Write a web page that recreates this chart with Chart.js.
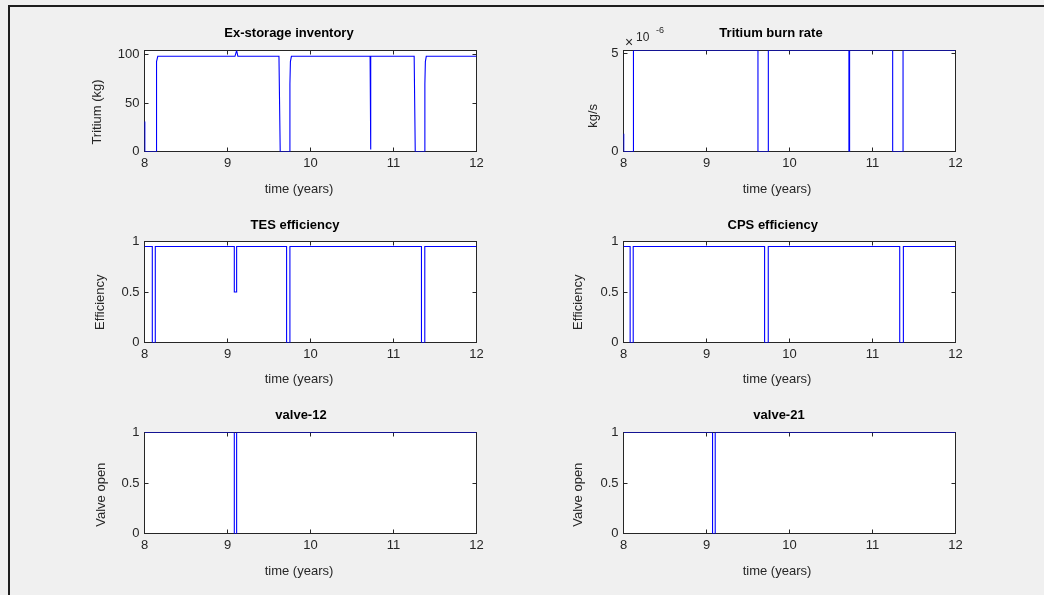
<!DOCTYPE html>
<html><head><meta charset="utf-8">
<script src="https://cdn.jsdelivr.net/npm/chart.js@4.4.1/dist/chart.umd.min.js"></script>
<style>
html,body{margin:0;padding:0;background:#f0f0f0;width:1044px;height:595px;overflow:hidden;position:relative;}
#frame{position:absolute;left:8px;top:5px;width:1040px;height:600px;border-left:2px solid #1e1e1e;border-top:2px solid #1e1e1e;box-sizing:border-box;}
canvas{position:absolute;}
</style></head><body>
<div id="frame"></div>
<script>
// ---------- data ----------
const xTicks = [8, 9, 10, 11, 12];
const xTickLabels = ['8', '9', '10', '11', '12'];

const invTime = [8.000, 8.004, 8.140, 8.143, 8.147, 8.160, 9.090, 9.110, 9.125, 9.620, 9.635, 9.744, 9.752, 9.758, 9.770, 10.718, 10.723, 10.728, 11.249, 11.262, 11.370, 11.378, 11.384, 11.395, 12.000];
const invKg   = [31, 0, 0, 70, 93, 98.5, 98.5, 104.5, 98.5, 98.5, 0, 0, 70, 93, 98.5, 98.5, 2, 98.5, 98.5, 0, 0, 70, 93, 98.5, 98.5];
const invTicks = [0, 50, 100];
const invTickLabels = ['0', '50', '100'];

const burnTime = [8.000, 8.003, 8.120, 8.120, 9.620, 9.620, 9.745, 9.745, 10.716, 10.716, 10.724, 10.724, 11.243, 11.243, 11.368, 11.368, 12.000];
const burnRate = [0.9, 0, 0, 5.15, 5.15, 0, 0, 5.15, 5.15, 0, 0, 5.15, 5.15, 0, 0, 5.15, 5.15]; // x 1e-6 kg/s
const burnTicks = [0, 5];
const burnTickLabels = ['0', '5'];

const tesTime = [8.000, 8.094, 8.094, 8.130, 8.130, 9.082, 9.082, 9.110, 9.110, 9.712, 9.712, 9.752, 9.752, 11.337, 11.337, 11.377, 11.377, 12.000];
const tesEff  = [0.95, 0.95, 0, 0, 0.95, 0.95, 0.5, 0.5, 0.95, 0.95, 0, 0, 0.95, 0.95, 0, 0, 0.95, 0.95];

const cpsTime = [8.000, 8.080, 8.080, 8.117, 8.117, 9.700, 9.700, 9.744, 9.744, 11.328, 11.328, 11.372, 11.372, 12.000];
const cpsEff  = [0.95, 0.95, 0, 0, 0.95, 0.95, 0, 0, 0.95, 0.95, 0, 0, 0.95, 0.95];

const v12Time = [8.000, 9.082, 9.082, 9.110, 9.110, 12.000];
const v12Open = [1, 1, 0, 0, 1, 1];
const v21Time = [8.000, 9.073, 9.073, 9.105, 9.105, 12.000];
const v21Open = [1, 1, 0, 0, 1, 1];

const unitTicks = [0, 0.5, 1];
const unitTickLabels = ['0', '0.5', '1'];

// ---------- layout ----------
const ML = 80, MT = 36, MR = 20, MB = 56;
const FONT = "'Liberation Sans', Arial, Helvetica, sans-serif";
const panels = [
  {id:'p1', L:144, T:50, W:333, H:102, xs:invTime, ys:invKg, ymax:104.5, yt:invTicks, yl:invTickLabels,
   title:'Ex-storage inventory', tx:289, ty:37.3, xlab:'time (years)', xx:299, xy:192.7, ylab:'Tritium (kg)', yx:97.8, yy:112},
  {id:'p2', L:623, T:50, W:333, H:102, xs:burnTime, ys:burnRate, ymax:5.15, yt:burnTicks, yl:burnTickLabels,
   title:'Tritium burn rate', tx:771, ty:37.3, xlab:'time (years)', xx:777, xy:192.7, ylab:'kg/s', yx:593.7, yy:115.8, expo:true},
  {id:'p3', L:144, T:241, W:333, H:102, xs:tesTime, ys:tesEff, ymax:1, yt:unitTicks, yl:unitTickLabels,
   title:'TES efficiency', tx:295, ty:229.3, xlab:'time (years)', xx:299, xy:382.7, ylab:'Efficiency', yx:100.5, yy:302.2},
  {id:'p4', L:623, T:241, W:333, H:102, xs:cpsTime, ys:cpsEff, ymax:1, yt:unitTicks, yl:unitTickLabels,
   title:'CPS efficiency', tx:772.7, ty:229.3, xlab:'time (years)', xx:777, xy:382.7, ylab:'Efficiency', yx:578.7, yy:302.2},
  {id:'p5', L:144, T:432, W:333, H:102, xs:v12Time, ys:v12Open, ymax:1, yt:unitTicks, yl:unitTickLabels,
   title:'valve-12', tx:301, ty:419.3, xlab:'time (years)', xx:299, xy:575, ylab:'Valve open', yx:101, yy:494.7},
  {id:'p6', L:623, T:432, W:333, H:102, xs:v21Time, ys:v21Open, ymax:1, yt:unitTicks, yl:unitTickLabels,
   title:'valve-21', tx:779, ty:419.3, xlab:'time (years)', xx:777, xy:575, ylab:'Valve open', yx:578.7, yy:494.7}
];

const AX = '#262626';
const matlabPlugin = {
  id: 'matlab',
  beforeDraw(chart) {
    const a = chart.chartArea, c = chart.ctx;
    c.save(); c.fillStyle = '#ffffff';
    c.fillRect(a.left, a.top, a.right - a.left, a.bottom - a.top);
    c.restore();
  },
  beforeDatasetsDraw(chart) {
    const a = chart.chartArea, c = chart.ctx;
    const xs = chart.scales.x, ys = chart.scales.y;
    const l = a.left, r = a.right, t = a.top, b = a.bottom;
    c.save();
    c.strokeStyle = AX; c.lineWidth = 1;
    c.strokeRect(l, t, r - l, b - t);
    const tl = 4;
    c.beginPath();
    xs.ticks.forEach(tk => {
      const px = Math.floor(xs.getPixelForValue(tk.value)) + 0.5;
      if (px <= l + 1 || px >= r - 1) return;
      c.moveTo(px, b); c.lineTo(px, b - tl);
      c.moveTo(px, t); c.lineTo(px, t + tl);
    });
    ys.ticks.forEach(tk => {
      const py = Math.floor(ys.getPixelForValue(tk.value)) + 0.5;
      if (py <= t + 1 || py >= b - 1) return;
      c.moveTo(l, py); c.lineTo(l + tl, py);
      c.moveTo(r, py); c.lineTo(r - tl, py);
    });
    c.stroke();
    c.restore();
  },
  afterDraw(chart) {
    const p = chart.options.plugins.matlab;
    const c = chart.ctx, ox = p.ox, oy = p.oy;
    c.save();
    c.textBaseline = 'alphabetic';
    c.textAlign = 'center';
    c.fillStyle = '#000000';
    c.font = 'bold 13px ' + FONT;
    c.fillText(p.title, p.tx - ox, p.ty - oy);
    c.fillStyle = AX;
    c.font = '13px ' + FONT;
    c.fillText(p.xlab, p.xx - ox, p.xy - oy);
    c.save();
    c.translate(p.yx - ox, p.yy - oy);
    c.rotate(-Math.PI / 2);
    c.textBaseline = 'middle';
    c.fillText(p.ylab, 0, 0);
    c.restore();
    if (p.expo) {
      c.textAlign = 'left';
      c.font = '14px ' + FONT;
      c.fillText('\u00d7', 625 - ox, 47 - oy);
      c.font = '12px ' + FONT;
      c.fillText('10', 636 - ox, 41 - oy);
      c.font = '9px ' + FONT;
      c.fillText('-6', 656 - ox, 33 - oy);
    }
    c.restore();
  }
};

panels.forEach(p => {
  const cv = document.createElement('canvas');
  cv.id = p.id;
  const cw = ML + p.W + MR, ch = MT + p.H + MB;
  cv.width = cw; cv.height = ch;
  cv.style.left = (p.L - ML) + 'px';
  cv.style.top = (p.T - MT) + 'px';
  cv.style.width = cw + 'px'; cv.style.height = ch + 'px';
  document.body.appendChild(cv);
  const pts = p.xs.map((x, i) => ({x: x, y: p.ys[i]}));
  new Chart(cv, {
    type: 'line',
    data: {datasets: [{data: pts, borderColor: '#0000ff', borderWidth: 1.1, pointRadius: 0, tension: 0, fill: false}]},
    options: {
      responsive: false, animation: false, devicePixelRatio: 1,
      layout: {padding: {left: 0, top: MT + 0.5, right: MR + 0.5, bottom: 0}},
      plugins: {
        legend: {display: false}, tooltip: {enabled: false},
        matlab: Object.assign({ox: p.L - ML, oy: p.T - MT}, p, {xs: null, ys: null})
      },
      scales: {
        x: {
          type: 'linear', min: 8, max: 12,
          grid: {display: false, drawTicks: false}, border: {display: false},
          afterBuildTicks: s => { s.ticks = xTicks.map(v => ({value: v})); },
          afterFit: s => { s.height = MB + 0.5; s.paddingLeft = 0; s.paddingRight = 0; },
          ticks: {color: AX, font: {family: FONT, size: 13}, padding: 4, maxRotation: 0, autoSkip: false,
                  callback: (v, i) => xTickLabels[i]}
        },
        y: {
          type: 'linear', min: 0, max: p.ymax,
          grid: {display: false, drawTicks: false}, border: {display: false},
          afterBuildTicks: s => { s.ticks = p.yt.map(v => ({value: v})); },
          afterFit: s => { s.width = ML + 0.5; s.paddingTop = 0; s.paddingBottom = 0; },
          ticks: {color: AX, font: {family: FONT, size: 13}, padding: 5, autoSkip: false,
                  callback: (v, i) => p.yl[i]}
        }
      }
    },
    plugins: [matlabPlugin]
  });
});
</script>
</body></html>
